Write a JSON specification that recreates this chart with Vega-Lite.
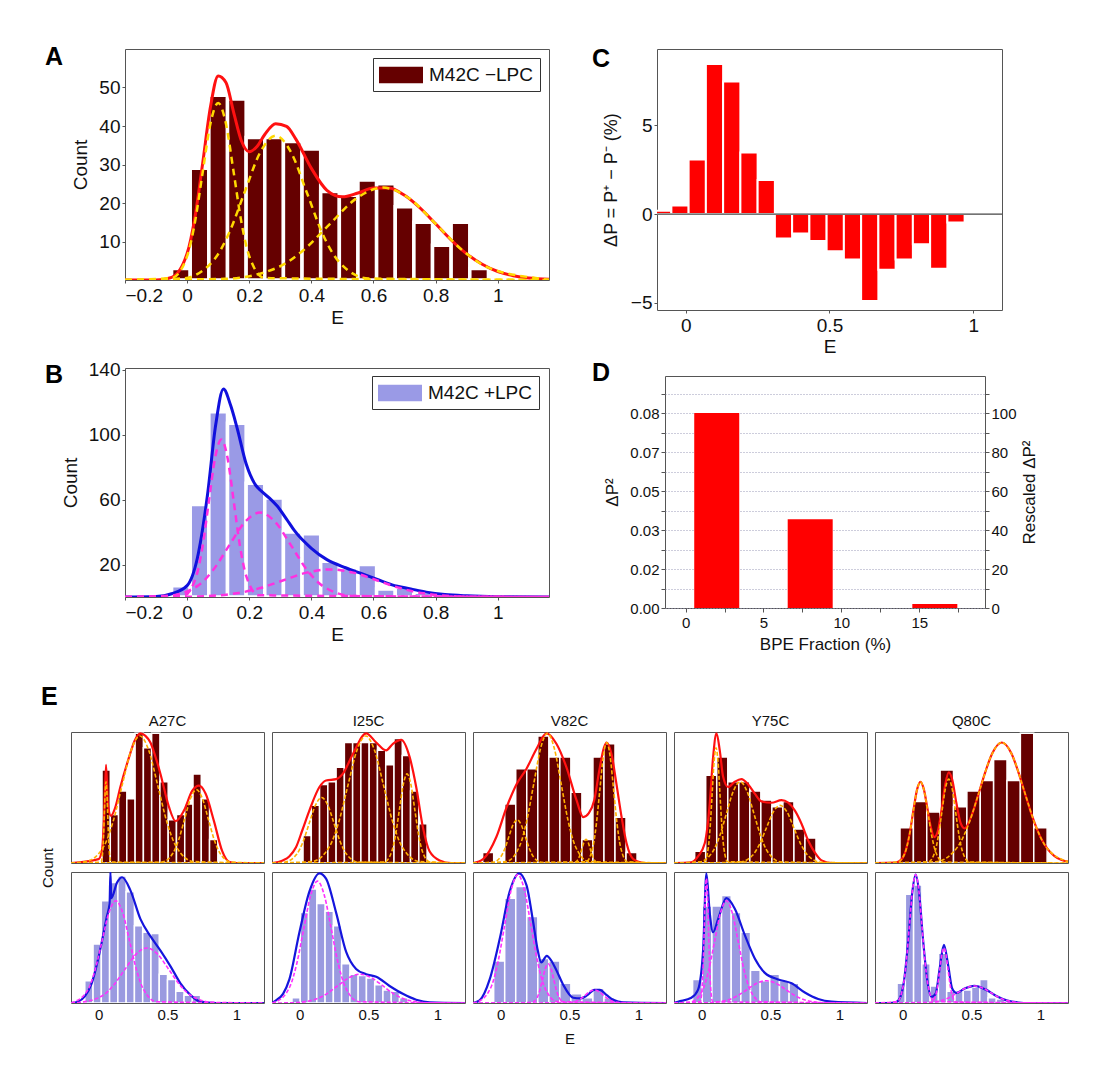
{
"$schema":"https://vega.github.io/schema/vega-lite/v6.json",
"background":"white",
"padding":{"left":40,"top":44,"right":5,"bottom":5},
"config":{"font":"Liberation Sans","view":{"stroke":"#555","strokeWidth":1},
"axis":{"domain":false,"tickColor":"#555","labelColor":"#111","titleColor":"#111","titleFontWeight":"normal","labelFont":"Liberation Sans","titleFont":"Liberation Sans","grid":false},
"header":{"labelFont":"Liberation Sans","titleFont":"Liberation Sans","labelColor":"#111","titleColor":"#111"},
"legend":{"labelFont":"Liberation Sans"},"title":{"font":"Liberation Sans","color":"#000"}},
"datasets":{
"Abar":[{"lo":-0.05,"hi":0.01,"v":3},{"lo":0.01,"hi":0.07,"v":29},{"lo":0.07,"hi":0.13,"v":48},{"lo":0.13,"hi":0.19,"v":47},{"lo":0.19,"hi":0.25,"v":37},{"lo":0.25,"hi":0.31,"v":37},{"lo":0.31,"hi":0.37,"v":36},{"lo":0.37,"hi":0.43,"v":34},{"lo":0.43,"hi":0.49,"v":23},{"lo":0.49,"hi":0.55,"v":22},{"lo":0.55,"hi":0.61,"v":26},{"lo":0.61,"hi":0.67,"v":25},{"lo":0.67,"hi":0.73,"v":19},{"lo":0.73,"hi":0.79,"v":15},{"lo":0.79,"hi":0.85,"v":9},{"lo":0.85,"hi":0.91,"v":15},{"lo":0.91,"hi":0.97,"v":3}],
"Aline":[
{"c":"t","x":-0.2,"y":0},{"c":"t","x":-0.1,"y":0},{"c":"t","x":-0.05,"y":0.7},{"c":"t","x":0,"y":6.9},{"c":"t","x":0.025,"y":16.2},{"c":"t","x":0.05,"y":30.3},{"c":"t","x":0.075,"y":44.9},{"c":"t","x":0.1,"y":53},{"c":"t","x":0.125,"y":51.3},{"c":"t","x":0.15,"y":43.5},{"c":"t","x":0.175,"y":36.1},{"c":"t","x":0.2,"y":33.3},{"c":"t","x":0.225,"y":34.7},{"c":"t","x":0.25,"y":37.8},{"c":"t","x":0.285,"y":40.6},{"c":"t","x":0.32,"y":39.9},{"c":"t","x":0.35,"y":36.6},{"c":"t","x":0.4,"y":29},{"c":"t","x":0.45,"y":23.3},{"c":"t","x":0.5,"y":21.6},{"c":"t","x":0.55,"y":22.6},{"c":"t","x":0.6,"y":23.9},{"c":"t","x":0.65,"y":23.9},{"c":"t","x":0.7,"y":22},{"c":"t","x":0.75,"y":18.7},{"c":"t","x":0.8,"y":14.6},{"c":"t","x":0.85,"y":10.4},{"c":"t","x":0.9,"y":6.8},{"c":"t","x":0.95,"y":4.1},{"c":"t","x":1,"y":2.2},{"c":"t","x":1.05,"y":1.1},{"c":"t","x":1.1,"y":0.5},{"c":"t","x":1.165,"y":0.2},
{"c":"1","x":-0.2,"y":0},{"c":"1","x":-0.05,"y":0.5},{"c":"1","x":0,"y":6.2},{"c":"1","x":0.025,"y":14.9},{"c":"1","x":0.05,"y":27.9},{"c":"1","x":0.075,"y":40.6},{"c":"1","x":0.1,"y":46},{"c":"1","x":0.125,"y":40.6},{"c":"1","x":0.15,"y":27.9},{"c":"1","x":0.175,"y":14.9},{"c":"1","x":0.2,"y":6.2},{"c":"1","x":0.25,"y":0.5},{"c":"1","x":1.165,"y":0},
{"c":"2","x":-0.2,"y":0},{"c":"2","x":-0.015,"y":0.4},{"c":"2","x":0.085,"y":5.1},{"c":"2","x":0.135,"y":12.2},{"c":"2","x":0.185,"y":22.8},{"c":"2","x":0.235,"y":33.1},{"c":"2","x":0.285,"y":37.5},{"c":"2","x":0.335,"y":33.1},{"c":"2","x":0.385,"y":22.8},{"c":"2","x":0.435,"y":12.2},{"c":"2","x":0.485,"y":5.1},{"c":"2","x":0.585,"y":0.4},{"c":"2","x":1.165,"y":0},
{"c":"3","x":-0.2,"y":0},{"c":"3","x":0.12,"y":0.3},{"c":"3","x":0.29,"y":3.2},{"c":"3","x":0.375,"y":7.8},{"c":"3","x":0.46,"y":14.6},{"c":"3","x":0.545,"y":21.2},{"c":"3","x":0.63,"y":24},{"c":"3","x":0.715,"y":21.2},{"c":"3","x":0.8,"y":14.6},{"c":"3","x":0.885,"y":7.8},{"c":"3","x":0.97,"y":3.2},{"c":"3","x":1.14,"y":0.3},{"c":"3","x":1.165,"y":0}],
"Bbar":[{"lo":-0.05,"hi":0.01,"v":7},{"lo":0.01,"hi":0.07,"v":57},{"lo":0.07,"hi":0.13,"v":114},{"lo":0.13,"hi":0.19,"v":107},{"lo":0.19,"hi":0.25,"v":70},{"lo":0.25,"hi":0.31,"v":61},{"lo":0.31,"hi":0.37,"v":40},{"lo":0.37,"hi":0.43,"v":39},{"lo":0.43,"hi":0.49,"v":22},{"lo":0.49,"hi":0.55,"v":18},{"lo":0.55,"hi":0.61,"v":20},{"lo":0.61,"hi":0.67,"v":5},{"lo":0.67,"hi":0.73,"v":6},{"lo":0.73,"hi":0.79,"v":3},{"lo":0.79,"hi":0.85,"v":1}],
"Bline":[
{"c":"t","x":-0.2,"y":0},{"c":"t","x":-0.1,"y":0.3},{"c":"t","x":-0.05,"y":2},{"c":"t","x":0,"y":7},{"c":"t","x":0.033,"y":24},{"c":"t","x":0.065,"y":62},{"c":"t","x":0.092,"y":106},{"c":"t","x":0.117,"y":128},{"c":"t","x":0.14,"y":118},{"c":"t","x":0.161,"y":104},{"c":"t","x":0.19,"y":82},{"c":"t","x":0.22,"y":69},{"c":"t","x":0.24,"y":65},{"c":"t","x":0.27,"y":60},{"c":"t","x":0.29,"y":56},{"c":"t","x":0.32,"y":48},{"c":"t","x":0.345,"y":41},{"c":"t","x":0.4,"y":30},{"c":"t","x":0.45,"y":23},{"c":"t","x":0.51,"y":18},{"c":"t","x":0.56,"y":14.5},{"c":"t","x":0.61,"y":11},{"c":"t","x":0.66,"y":7.5},{"c":"t","x":0.72,"y":5},{"c":"t","x":0.77,"y":3},{"c":"t","x":0.83,"y":1.5},{"c":"t","x":0.9,"y":0.7},{"c":"t","x":1,"y":0.2},{"c":"t","x":1.165,"y":0},
{"c":"1","x":-0.2,"y":0},{"c":"1","x":-0.01,"y":1.1},{"c":"1","x":0.03,"y":13.1},{"c":"1","x":0.05,"y":31.5},{"c":"1","x":0.07,"y":58.9},{"c":"1","x":0.09,"y":85.7},{"c":"1","x":0.11,"y":97},{"c":"1","x":0.13,"y":85.7},{"c":"1","x":0.15,"y":58.9},{"c":"1","x":0.17,"y":31.5},{"c":"1","x":0.19,"y":13.1},{"c":"1","x":0.23,"y":1.1},{"c":"1","x":1.165,"y":0},
{"c":"2","x":-0.2,"y":0},{"c":"2","x":-0.065,"y":0.6},{"c":"2","x":0.035,"y":7},{"c":"2","x":0.085,"y":16.9},{"c":"2","x":0.135,"y":31.6},{"c":"2","x":0.185,"y":45.9},{"c":"2","x":0.235,"y":52},{"c":"2","x":0.285,"y":45.9},{"c":"2","x":0.335,"y":31.6},{"c":"2","x":0.385,"y":16.9},{"c":"2","x":0.435,"y":7},{"c":"2","x":0.535,"y":0.6},{"c":"2","x":1.165,"y":0},
{"c":"3","x":-0.2,"y":0},{"c":"3","x":0.01,"y":0.2},{"c":"3","x":0.16,"y":2.3},{"c":"3","x":0.235,"y":5.5},{"c":"3","x":0.31,"y":10.3},{"c":"3","x":0.385,"y":15},{"c":"3","x":0.46,"y":17},{"c":"3","x":0.535,"y":15},{"c":"3","x":0.61,"y":10.3},{"c":"3","x":0.685,"y":5.5},{"c":"3","x":0.76,"y":2.3},{"c":"3","x":0.91,"y":0.2},{"c":"3","x":1.165,"y":0}],
"Cbar":[{"lo":-0.11,"hi":-0.05,"v":0.19},{"lo":-0.05,"hi":0.01,"v":0.49},{"lo":0.01,"hi":0.07,"v":3.08},{"lo":0.07,"hi":0.13,"v":8.45},{"lo":0.13,"hi":0.19,"v":7.47},{"lo":0.19,"hi":0.25,"v":3.47},{"lo":0.25,"hi":0.31,"v":1.92},{"lo":0.31,"hi":0.37,"v":-1.38},{"lo":0.37,"hi":0.43,"v":-1.09},{"lo":0.43,"hi":0.49,"v":-1.51},{"lo":0.49,"hi":0.55,"v":-2.09},{"lo":0.55,"hi":0.61,"v":-2.55},{"lo":0.61,"hi":0.67,"v":-4.89},{"lo":0.67,"hi":0.73,"v":-3.13},{"lo":0.73,"hi":0.79,"v":-2.55},{"lo":0.79,"hi":0.85,"v":-1.7},{"lo":0.85,"hi":0.91,"v":-3.08},{"lo":0.91,"hi":0.97,"v":-0.47}],
"Dbar":[{"f":2,"v":100},{"f":8,"v":45.5},{"f":16,"v":2}],
"E":[
{"k":"b","m":"A27C","r":"-","lo":0.025,"hi":0.085,"v":71},{"k":"b","m":"A27C","r":"-","lo":0.085,"hi":0.145,"v":37},{"k":"b","m":"A27C","r":"-","lo":0.145,"hi":0.205,"v":55},{"k":"b","m":"A27C","r":"-","lo":0.205,"hi":0.265,"v":49},{"k":"b","m":"A27C","r":"-","lo":0.265,"hi":0.325,"v":99},{"k":"b","m":"A27C","r":"-","lo":0.325,"hi":0.385,"v":88},{"k":"b","m":"A27C","r":"-","lo":0.385,"hi":0.445,"v":99},{"k":"b","m":"A27C","r":"-","lo":0.445,"hi":0.505,"v":62},{"k":"b","m":"A27C","r":"-","lo":0.505,"hi":0.565,"v":33},{"k":"b","m":"A27C","r":"-","lo":0.565,"hi":0.625,"v":37},{"k":"b","m":"A27C","r":"-","lo":0.625,"hi":0.685,"v":45},{"k":"b","m":"A27C","r":"-","lo":0.685,"hi":0.745,"v":68},{"k":"b","m":"A27C","r":"-","lo":0.745,"hi":0.805,"v":49},{"k":"b","m":"A27C","r":"-","lo":0.805,"hi":0.865,"v":18},
{"k":"t","m":"A27C","r":"-","x":-0.2,"y":0},{"k":"t","m":"A27C","r":"-","x":0,"y":3},{"k":"t","m":"A27C","r":"-","x":0.025,"y":10},{"k":"t","m":"A27C","r":"-","x":0.04,"y":35},{"k":"t","m":"A27C","r":"-","x":0.054,"y":75},{"k":"t","m":"A27C","r":"-","x":0.068,"y":45},{"k":"t","m":"A27C","r":"-","x":0.09,"y":36},{"k":"t","m":"A27C","r":"-","x":0.12,"y":42},{"k":"t","m":"A27C","r":"-","x":0.158,"y":58},{"k":"t","m":"A27C","r":"-","x":0.219,"y":80},{"k":"t","m":"A27C","r":"-","x":0.26,"y":93},{"k":"t","m":"A27C","r":"-","x":0.304,"y":99},{"k":"t","m":"A27C","r":"-","x":0.34,"y":97},{"k":"t","m":"A27C","r":"-","x":0.376,"y":92},{"k":"t","m":"A27C","r":"-","x":0.41,"y":82},{"k":"t","m":"A27C","r":"-","x":0.449,"y":68},{"k":"t","m":"A27C","r":"-","x":0.51,"y":43},{"k":"t","m":"A27C","r":"-","x":0.558,"y":32},{"k":"t","m":"A27C","r":"-","x":0.619,"y":40},{"k":"t","m":"A27C","r":"-","x":0.679,"y":55},{"k":"t","m":"A27C","r":"-","x":0.728,"y":59},{"k":"t","m":"A27C","r":"-","x":0.776,"y":53},{"k":"t","m":"A27C","r":"-","x":0.837,"y":32},{"k":"t","m":"A27C","r":"-","x":0.897,"y":9},{"k":"t","m":"A27C","r":"-","x":0.946,"y":1},{"k":"t","m":"A27C","r":"-","x":1,"y":0},{"k":"t","m":"A27C","r":"-","x":1.2,"y":0},
{"k":"c","m":"A27C","r":"-","c":1,"x":-0.2,"y":0},{"k":"c","m":"A27C","r":"-","c":1,"x":0.018,"y":0.7},{"k":"c","m":"A27C","r":"-","c":1,"x":0.03,"y":8.4},{"k":"c","m":"A27C","r":"-","c":1,"x":0.036,"y":20.2},{"k":"c","m":"A27C","r":"-","c":1,"x":0.042,"y":37.6},{"k":"c","m":"A27C","r":"-","c":1,"x":0.048,"y":54.7},{"k":"c","m":"A27C","r":"-","c":1,"x":0.054,"y":62},{"k":"c","m":"A27C","r":"-","c":1,"x":0.06,"y":54.7},{"k":"c","m":"A27C","r":"-","c":1,"x":0.066,"y":37.6},{"k":"c","m":"A27C","r":"-","c":1,"x":0.072,"y":20.2},{"k":"c","m":"A27C","r":"-","c":1,"x":0.078,"y":8.4},{"k":"c","m":"A27C","r":"-","c":1,"x":0.09,"y":0.7},{"k":"c","m":"A27C","r":"-","c":1,"x":1.2,"y":0},
{"k":"c","m":"A27C","r":"-","c":2,"x":-0.2,"y":0},{"k":"c","m":"A27C","r":"-","c":2,"x":-0.09,"y":1.1},{"k":"c","m":"A27C","r":"-","c":2,"x":0.04,"y":13.1},{"k":"c","m":"A27C","r":"-","c":2,"x":0.105,"y":31.5},{"k":"c","m":"A27C","r":"-","c":2,"x":0.17,"y":58.9},{"k":"c","m":"A27C","r":"-","c":2,"x":0.235,"y":85.7},{"k":"c","m":"A27C","r":"-","c":2,"x":0.3,"y":97},{"k":"c","m":"A27C","r":"-","c":2,"x":0.365,"y":85.7},{"k":"c","m":"A27C","r":"-","c":2,"x":0.43,"y":58.9},{"k":"c","m":"A27C","r":"-","c":2,"x":0.495,"y":31.5},{"k":"c","m":"A27C","r":"-","c":2,"x":0.56,"y":13.1},{"k":"c","m":"A27C","r":"-","c":2,"x":0.69,"y":1.1},{"k":"c","m":"A27C","r":"-","c":2,"x":1.2,"y":0},
{"k":"c","m":"A27C","r":"-","c":3,"x":-0.2,"y":0},{"k":"c","m":"A27C","r":"-","c":3,"x":0.455,"y":0.6},{"k":"c","m":"A27C","r":"-","c":3,"x":0.54,"y":7.6},{"k":"c","m":"A27C","r":"-","c":3,"x":0.5825,"y":18.2},{"k":"c","m":"A27C","r":"-","c":3,"x":0.625,"y":34},{"k":"c","m":"A27C","r":"-","c":3,"x":0.6675,"y":49.4},{"k":"c","m":"A27C","r":"-","c":3,"x":0.71,"y":56},{"k":"c","m":"A27C","r":"-","c":3,"x":0.7525,"y":49.4},{"k":"c","m":"A27C","r":"-","c":3,"x":0.795,"y":34},{"k":"c","m":"A27C","r":"-","c":3,"x":0.8375,"y":18.2},{"k":"c","m":"A27C","r":"-","c":3,"x":0.88,"y":7.6},{"k":"c","m":"A27C","r":"-","c":3,"x":0.965,"y":0.6},{"k":"c","m":"A27C","r":"-","c":3,"x":1.2,"y":0},
{"k":"b","m":"A27C","r":"+","lo":-0.1,"hi":-0.04,"v":17},{"k":"b","m":"A27C","r":"+","lo":-0.04,"hi":0.02,"v":45},{"k":"b","m":"A27C","r":"+","lo":0.02,"hi":0.08,"v":78},{"k":"b","m":"A27C","r":"+","lo":0.08,"hi":0.14,"v":92},{"k":"b","m":"A27C","r":"+","lo":0.14,"hi":0.2,"v":97},{"k":"b","m":"A27C","r":"+","lo":0.2,"hi":0.26,"v":85},{"k":"b","m":"A27C","r":"+","lo":0.26,"hi":0.32,"v":59},{"k":"b","m":"A27C","r":"+","lo":0.32,"hi":0.38,"v":54},{"k":"b","m":"A27C","r":"+","lo":0.38,"hi":0.44,"v":53},{"k":"b","m":"A27C","r":"+","lo":0.44,"hi":0.5,"v":22},{"k":"b","m":"A27C","r":"+","lo":0.5,"hi":0.56,"v":18},{"k":"b","m":"A27C","r":"+","lo":0.56,"hi":0.62,"v":9},{"k":"b","m":"A27C","r":"+","lo":0.62,"hi":0.68,"v":6},{"k":"b","m":"A27C","r":"+","lo":0.68,"hi":0.74,"v":6},
{"k":"t","m":"A27C","r":"+","x":-0.2,"y":0},{"k":"t","m":"A27C","r":"+","x":-0.15,"y":1},{"k":"t","m":"A27C","r":"+","x":-0.1,"y":5},{"k":"t","m":"A27C","r":"+","x":-0.05,"y":15},{"k":"t","m":"A27C","r":"+","x":0,"y":35},{"k":"t","m":"A27C","r":"+","x":0.06,"y":66},{"k":"t","m":"A27C","r":"+","x":0.08,"y":76},{"k":"t","m":"A27C","r":"+","x":0.086,"y":100},{"k":"t","m":"A27C","r":"+","x":0.092,"y":80},{"k":"t","m":"A27C","r":"+","x":0.134,"y":92},{"k":"t","m":"A27C","r":"+","x":0.171,"y":96},{"k":"t","m":"A27C","r":"+","x":0.231,"y":86},{"k":"t","m":"A27C","r":"+","x":0.304,"y":64},{"k":"t","m":"A27C","r":"+","x":0.376,"y":51},{"k":"t","m":"A27C","r":"+","x":0.449,"y":40},{"k":"t","m":"A27C","r":"+","x":0.522,"y":28},{"k":"t","m":"A27C","r":"+","x":0.594,"y":15},{"k":"t","m":"A27C","r":"+","x":0.667,"y":6},{"k":"t","m":"A27C","r":"+","x":0.74,"y":1},{"k":"t","m":"A27C","r":"+","x":0.85,"y":0},{"k":"t","m":"A27C","r":"+","x":1.2,"y":0},
{"k":"c","m":"A27C","r":"+","c":1,"x":-0.2,"y":0},{"k":"c","m":"A27C","r":"+","c":1,"x":-0.175,"y":0.9},{"k":"c","m":"A27C","r":"+","c":1,"x":-0.075,"y":10.5},{"k":"c","m":"A27C","r":"+","c":1,"x":-0.025,"y":25.3},{"k":"c","m":"A27C","r":"+","c":1,"x":0.025,"y":47.3},{"k":"c","m":"A27C","r":"+","c":1,"x":0.075,"y":68.9},{"k":"c","m":"A27C","r":"+","c":1,"x":0.125,"y":78},{"k":"c","m":"A27C","r":"+","c":1,"x":0.175,"y":68.9},{"k":"c","m":"A27C","r":"+","c":1,"x":0.225,"y":47.3},{"k":"c","m":"A27C","r":"+","c":1,"x":0.275,"y":25.3},{"k":"c","m":"A27C","r":"+","c":1,"x":0.325,"y":10.5},{"k":"c","m":"A27C","r":"+","c":1,"x":0.425,"y":0.9},{"k":"c","m":"A27C","r":"+","c":1,"x":1.2,"y":0},
{"k":"c","m":"A27C","r":"+","c":2,"x":-0.2,"y":0},{"k":"c","m":"A27C","r":"+","c":2,"x":-0.13,"y":0.5},{"k":"c","m":"A27C","r":"+","c":2,"x":0.03,"y":5.7},{"k":"c","m":"A27C","r":"+","c":2,"x":0.11,"y":13.7},{"k":"c","m":"A27C","r":"+","c":2,"x":0.19,"y":25.5},{"k":"c","m":"A27C","r":"+","c":2,"x":0.27,"y":37.1},{"k":"c","m":"A27C","r":"+","c":2,"x":0.35,"y":42},{"k":"c","m":"A27C","r":"+","c":2,"x":0.43,"y":37.1},{"k":"c","m":"A27C","r":"+","c":2,"x":0.51,"y":25.5},{"k":"c","m":"A27C","r":"+","c":2,"x":0.59,"y":13.7},{"k":"c","m":"A27C","r":"+","c":2,"x":0.67,"y":5.7},{"k":"c","m":"A27C","r":"+","c":2,"x":0.83,"y":0.5},{"k":"c","m":"A27C","r":"+","c":2,"x":1.2,"y":0},
{"k":"b","m":"I25C","r":"-","lo":0.025,"hi":0.085,"v":21},{"k":"b","m":"I25C","r":"-","lo":0.085,"hi":0.145,"v":44},{"k":"b","m":"I25C","r":"-","lo":0.145,"hi":0.205,"v":60},{"k":"b","m":"I25C","r":"-","lo":0.205,"hi":0.265,"v":62},{"k":"b","m":"I25C","r":"-","lo":0.265,"hi":0.325,"v":73},{"k":"b","m":"I25C","r":"-","lo":0.325,"hi":0.385,"v":92},{"k":"b","m":"I25C","r":"-","lo":0.385,"hi":0.445,"v":92},{"k":"b","m":"I25C","r":"-","lo":0.445,"hi":0.505,"v":92},{"k":"b","m":"I25C","r":"-","lo":0.505,"hi":0.565,"v":92},{"k":"b","m":"I25C","r":"-","lo":0.565,"hi":0.625,"v":86},{"k":"b","m":"I25C","r":"-","lo":0.625,"hi":0.685,"v":75},{"k":"b","m":"I25C","r":"-","lo":0.685,"hi":0.745,"v":95},{"k":"b","m":"I25C","r":"-","lo":0.745,"hi":0.805,"v":82},{"k":"b","m":"I25C","r":"-","lo":0.805,"hi":0.865,"v":55},{"k":"b","m":"I25C","r":"-","lo":0.865,"hi":0.925,"v":30},
{"k":"t","m":"I25C","r":"-","x":-0.2,"y":0},{"k":"t","m":"I25C","r":"-","x":-0.122,"y":2},{"k":"t","m":"I25C","r":"-","x":-0.075,"y":5},{"k":"t","m":"I25C","r":"-","x":-0.026,"y":12},{"k":"t","m":"I25C","r":"-","x":0.02,"y":25},{"k":"t","m":"I25C","r":"-","x":0.071,"y":40},{"k":"t","m":"I25C","r":"-","x":0.144,"y":58},{"k":"t","m":"I25C","r":"-","x":0.192,"y":63},{"k":"t","m":"I25C","r":"-","x":0.265,"y":64},{"k":"t","m":"I25C","r":"-","x":0.313,"y":68},{"k":"t","m":"I25C","r":"-","x":0.386,"y":83},{"k":"t","m":"I25C","r":"-","x":0.483,"y":99},{"k":"t","m":"I25C","r":"-","x":0.556,"y":92},{"k":"t","m":"I25C","r":"-","x":0.628,"y":86},{"k":"t","m":"I25C","r":"-","x":0.677,"y":91},{"k":"t","m":"I25C","r":"-","x":0.737,"y":94},{"k":"t","m":"I25C","r":"-","x":0.798,"y":81},{"k":"t","m":"I25C","r":"-","x":0.846,"y":58},{"k":"t","m":"I25C","r":"-","x":0.895,"y":27},{"k":"t","m":"I25C","r":"-","x":0.943,"y":9},{"k":"t","m":"I25C","r":"-","x":1.016,"y":2},{"k":"t","m":"I25C","r":"-","x":1.1,"y":0},{"k":"t","m":"I25C","r":"-","x":1.2,"y":0},
{"k":"c","m":"I25C","r":"-","c":1,"x":-0.2,"y":0},{"k":"c","m":"I25C","r":"-","c":1,"x":-0.11,"y":0.6},{"k":"c","m":"I25C","r":"-","c":1,"x":-0.02,"y":6.8},{"k":"c","m":"I25C","r":"-","c":1,"x":0.025,"y":16.2},{"k":"c","m":"I25C","r":"-","c":1,"x":0.07,"y":30.3},{"k":"c","m":"I25C","r":"-","c":1,"x":0.115,"y":44.1},{"k":"c","m":"I25C","r":"-","c":1,"x":0.16,"y":50},{"k":"c","m":"I25C","r":"-","c":1,"x":0.205,"y":44.1},{"k":"c","m":"I25C","r":"-","c":1,"x":0.25,"y":30.3},{"k":"c","m":"I25C","r":"-","c":1,"x":0.295,"y":16.2},{"k":"c","m":"I25C","r":"-","c":1,"x":0.34,"y":6.8},{"k":"c","m":"I25C","r":"-","c":1,"x":0.43,"y":0.6},{"k":"c","m":"I25C","r":"-","c":1,"x":1.2,"y":0},
{"k":"c","m":"I25C","r":"-","c":2,"x":-0.2,"y":0},{"k":"c","m":"I25C","r":"-","c":2,"x":0.09,"y":1.1},{"k":"c","m":"I25C","r":"-","c":2,"x":0.22,"y":13.1},{"k":"c","m":"I25C","r":"-","c":2,"x":0.285,"y":31.5},{"k":"c","m":"I25C","r":"-","c":2,"x":0.35,"y":58.9},{"k":"c","m":"I25C","r":"-","c":2,"x":0.415,"y":85.7},{"k":"c","m":"I25C","r":"-","c":2,"x":0.48,"y":97},{"k":"c","m":"I25C","r":"-","c":2,"x":0.545,"y":85.7},{"k":"c","m":"I25C","r":"-","c":2,"x":0.61,"y":58.9},{"k":"c","m":"I25C","r":"-","c":2,"x":0.675,"y":31.5},{"k":"c","m":"I25C","r":"-","c":2,"x":0.74,"y":13.1},{"k":"c","m":"I25C","r":"-","c":2,"x":0.87,"y":1.1},{"k":"c","m":"I25C","r":"-","c":2,"x":1.2,"y":0},
{"k":"c","m":"I25C","r":"-","c":3,"x":-0.2,"y":0},{"k":"c","m":"I25C","r":"-","c":3,"x":0.615,"y":0.7},{"k":"c","m":"I25C","r":"-","c":3,"x":0.67,"y":9.2},{"k":"c","m":"I25C","r":"-","c":3,"x":0.6975,"y":22.1},{"k":"c","m":"I25C","r":"-","c":3,"x":0.725,"y":41.3},{"k":"c","m":"I25C","r":"-","c":3,"x":0.7525,"y":60},{"k":"c","m":"I25C","r":"-","c":3,"x":0.78,"y":68},{"k":"c","m":"I25C","r":"-","c":3,"x":0.8075,"y":60},{"k":"c","m":"I25C","r":"-","c":3,"x":0.835,"y":41.3},{"k":"c","m":"I25C","r":"-","c":3,"x":0.8625,"y":22.1},{"k":"c","m":"I25C","r":"-","c":3,"x":0.89,"y":9.2},{"k":"c","m":"I25C","r":"-","c":3,"x":0.945,"y":0.7},{"k":"c","m":"I25C","r":"-","c":3,"x":1.2,"y":0},
{"k":"b","m":"I25C","r":"+","lo":-0.055,"hi":0.005,"v":4},{"k":"b","m":"I25C","r":"+","lo":0.005,"hi":0.065,"v":69},{"k":"b","m":"I25C","r":"+","lo":0.065,"hi":0.125,"v":87},{"k":"b","m":"I25C","r":"+","lo":0.125,"hi":0.185,"v":76},{"k":"b","m":"I25C","r":"+","lo":0.185,"hi":0.245,"v":70},{"k":"b","m":"I25C","r":"+","lo":0.245,"hi":0.305,"v":59},{"k":"b","m":"I25C","r":"+","lo":0.305,"hi":0.365,"v":30},{"k":"b","m":"I25C","r":"+","lo":0.365,"hi":0.425,"v":22},{"k":"b","m":"I25C","r":"+","lo":0.425,"hi":0.485,"v":21},{"k":"b","m":"I25C","r":"+","lo":0.485,"hi":0.545,"v":19},{"k":"b","m":"I25C","r":"+","lo":0.545,"hi":0.605,"v":14},{"k":"b","m":"I25C","r":"+","lo":0.605,"hi":0.665,"v":10},{"k":"b","m":"I25C","r":"+","lo":0.665,"hi":0.725,"v":9},{"k":"b","m":"I25C","r":"+","lo":0.725,"hi":0.785,"v":4},
{"k":"t","m":"I25C","r":"+","x":-0.2,"y":0},{"k":"t","m":"I25C","r":"+","x":-0.171,"y":2},{"k":"t","m":"I25C","r":"+","x":-0.12,"y":7},{"k":"t","m":"I25C","r":"+","x":-0.074,"y":18},{"k":"t","m":"I25C","r":"+","x":-0.001,"y":54},{"k":"t","m":"I25C","r":"+","x":0.071,"y":85},{"k":"t","m":"I25C","r":"+","x":0.144,"y":99},{"k":"t","m":"I25C","r":"+","x":0.192,"y":95},{"k":"t","m":"I25C","r":"+","x":0.265,"y":69},{"k":"t","m":"I25C","r":"+","x":0.338,"y":39},{"k":"t","m":"I25C","r":"+","x":0.41,"y":26},{"k":"t","m":"I25C","r":"+","x":0.483,"y":22},{"k":"t","m":"I25C","r":"+","x":0.556,"y":20},{"k":"t","m":"I25C","r":"+","x":0.653,"y":13},{"k":"t","m":"I25C","r":"+","x":0.749,"y":7},{"k":"t","m":"I25C","r":"+","x":0.846,"y":2.5},{"k":"t","m":"I25C","r":"+","x":0.943,"y":0.5},{"k":"t","m":"I25C","r":"+","x":1.2,"y":0},
{"k":"c","m":"I25C","r":"+","c":1,"x":-0.2,"y":0},{"k":"c","m":"I25C","r":"+","c":1,"x":-0.17,"y":1},{"k":"c","m":"I25C","r":"+","c":1,"x":-0.07,"y":12.6},{"k":"c","m":"I25C","r":"+","c":1,"x":-0.02,"y":30.2},{"k":"c","m":"I25C","r":"+","c":1,"x":0.03,"y":56.4},{"k":"c","m":"I25C","r":"+","c":1,"x":0.08,"y":82.1},{"k":"c","m":"I25C","r":"+","c":1,"x":0.13,"y":93},{"k":"c","m":"I25C","r":"+","c":1,"x":0.18,"y":82.1},{"k":"c","m":"I25C","r":"+","c":1,"x":0.23,"y":56.4},{"k":"c","m":"I25C","r":"+","c":1,"x":0.28,"y":30.2},{"k":"c","m":"I25C","r":"+","c":1,"x":0.33,"y":12.6},{"k":"c","m":"I25C","r":"+","c":1,"x":0.43,"y":1},{"k":"c","m":"I25C","r":"+","c":1,"x":1.2,"y":0},
{"k":"c","m":"I25C","r":"+","c":2,"x":-0.2,"y":0},{"k":"c","m":"I25C","r":"+","c":2,"x":-0.04,"y":0.2},{"k":"c","m":"I25C","r":"+","c":2,"x":0.12,"y":3},{"k":"c","m":"I25C","r":"+","c":2,"x":0.2,"y":7.2},{"k":"c","m":"I25C","r":"+","c":2,"x":0.28,"y":13.4},{"k":"c","m":"I25C","r":"+","c":2,"x":0.36,"y":19.4},{"k":"c","m":"I25C","r":"+","c":2,"x":0.44,"y":22},{"k":"c","m":"I25C","r":"+","c":2,"x":0.52,"y":19.4},{"k":"c","m":"I25C","r":"+","c":2,"x":0.6,"y":13.4},{"k":"c","m":"I25C","r":"+","c":2,"x":0.68,"y":7.2},{"k":"c","m":"I25C","r":"+","c":2,"x":0.76,"y":3},{"k":"c","m":"I25C","r":"+","c":2,"x":0.92,"y":0.2},{"k":"c","m":"I25C","r":"+","c":2,"x":1.2,"y":0},
{"k":"b","m":"V82C","r":"-","lo":-0.13,"hi":-0.05,"v":8},{"k":"b","m":"V82C","r":"-","lo":0.03,"hi":0.11,"v":45},{"k":"b","m":"V82C","r":"-","lo":0.11,"hi":0.19,"v":72},{"k":"b","m":"V82C","r":"-","lo":0.19,"hi":0.27,"v":72},{"k":"b","m":"V82C","r":"-","lo":0.27,"hi":0.35,"v":97},{"k":"b","m":"V82C","r":"-","lo":0.35,"hi":0.43,"v":81},{"k":"b","m":"V82C","r":"-","lo":0.43,"hi":0.51,"v":81},{"k":"b","m":"V82C","r":"-","lo":0.51,"hi":0.59,"v":54},{"k":"b","m":"V82C","r":"-","lo":0.59,"hi":0.67,"v":18},{"k":"b","m":"V82C","r":"-","lo":0.67,"hi":0.75,"v":81},{"k":"b","m":"V82C","r":"-","lo":0.75,"hi":0.83,"v":91},{"k":"b","m":"V82C","r":"-","lo":0.83,"hi":0.91,"v":35},{"k":"b","m":"V82C","r":"-","lo":0.91,"hi":0.99,"v":8},
{"k":"t","m":"V82C","r":"-","x":-0.2,"y":0},{"k":"t","m":"V82C","r":"-","x":-0.127,"y":3},{"k":"t","m":"V82C","r":"-","x":-0.03,"y":20},{"k":"t","m":"V82C","r":"-","x":0.042,"y":42},{"k":"t","m":"V82C","r":"-","x":0.115,"y":60},{"k":"t","m":"V82C","r":"-","x":0.188,"y":72},{"k":"t","m":"V82C","r":"-","x":0.26,"y":87},{"k":"t","m":"V82C","r":"-","x":0.333,"y":99},{"k":"t","m":"V82C","r":"-","x":0.405,"y":91},{"k":"t","m":"V82C","r":"-","x":0.478,"y":73},{"k":"t","m":"V82C","r":"-","x":0.551,"y":48},{"k":"t","m":"V82C","r":"-","x":0.6,"y":35},{"k":"t","m":"V82C","r":"-","x":0.64,"y":38},{"k":"t","m":"V82C","r":"-","x":0.68,"y":48},{"k":"t","m":"V82C","r":"-","x":0.715,"y":70},{"k":"t","m":"V82C","r":"-","x":0.75,"y":88},{"k":"t","m":"V82C","r":"-","x":0.769,"y":92},{"k":"t","m":"V82C","r":"-","x":0.805,"y":83},{"k":"t","m":"V82C","r":"-","x":0.841,"y":60},{"k":"t","m":"V82C","r":"-","x":0.878,"y":35},{"k":"t","m":"V82C","r":"-","x":0.914,"y":15},{"k":"t","m":"V82C","r":"-","x":0.963,"y":3},{"k":"t","m":"V82C","r":"-","x":1.05,"y":0},{"k":"t","m":"V82C","r":"-","x":1.2,"y":0},
{"k":"c","m":"V82C","r":"-","c":1,"x":-0.2,"y":0},{"k":"c","m":"V82C","r":"-","c":1,"x":-0.06,"y":0.4},{"k":"c","m":"V82C","r":"-","c":1,"x":0,"y":4.5},{"k":"c","m":"V82C","r":"-","c":1,"x":0.03,"y":10.7},{"k":"c","m":"V82C","r":"-","c":1,"x":0.06,"y":20},{"k":"c","m":"V82C","r":"-","c":1,"x":0.09,"y":29.1},{"k":"c","m":"V82C","r":"-","c":1,"x":0.12,"y":33},{"k":"c","m":"V82C","r":"-","c":1,"x":0.15,"y":29.1},{"k":"c","m":"V82C","r":"-","c":1,"x":0.18,"y":20},{"k":"c","m":"V82C","r":"-","c":1,"x":0.21,"y":10.7},{"k":"c","m":"V82C","r":"-","c":1,"x":0.24,"y":4.5},{"k":"c","m":"V82C","r":"-","c":1,"x":0.3,"y":0.4},{"k":"c","m":"V82C","r":"-","c":1,"x":1.2,"y":0},
{"k":"c","m":"V82C","r":"-","c":2,"x":-0.2,"y":0},{"k":"c","m":"V82C","r":"-","c":2,"x":0.04,"y":1.1},{"k":"c","m":"V82C","r":"-","c":2,"x":0.14,"y":13.4},{"k":"c","m":"V82C","r":"-","c":2,"x":0.19,"y":32.2},{"k":"c","m":"V82C","r":"-","c":2,"x":0.24,"y":60.1},{"k":"c","m":"V82C","r":"-","c":2,"x":0.29,"y":87.4},{"k":"c","m":"V82C","r":"-","c":2,"x":0.34,"y":99},{"k":"c","m":"V82C","r":"-","c":2,"x":0.39,"y":87.4},{"k":"c","m":"V82C","r":"-","c":2,"x":0.44,"y":60.1},{"k":"c","m":"V82C","r":"-","c":2,"x":0.49,"y":32.2},{"k":"c","m":"V82C","r":"-","c":2,"x":0.54,"y":13.4},{"k":"c","m":"V82C","r":"-","c":2,"x":0.64,"y":1.1},{"k":"c","m":"V82C","r":"-","c":2,"x":1.2,"y":0},
{"k":"c","m":"V82C","r":"-","c":3,"x":-0.2,"y":0},{"k":"c","m":"V82C","r":"-","c":3,"x":0.62,"y":1},{"k":"c","m":"V82C","r":"-","c":3,"x":0.67,"y":12.4},{"k":"c","m":"V82C","r":"-","c":3,"x":0.695,"y":29.9},{"k":"c","m":"V82C","r":"-","c":3,"x":0.72,"y":55.8},{"k":"c","m":"V82C","r":"-","c":3,"x":0.745,"y":81.2},{"k":"c","m":"V82C","r":"-","c":3,"x":0.77,"y":92},{"k":"c","m":"V82C","r":"-","c":3,"x":0.795,"y":81.2},{"k":"c","m":"V82C","r":"-","c":3,"x":0.82,"y":55.8},{"k":"c","m":"V82C","r":"-","c":3,"x":0.845,"y":29.9},{"k":"c","m":"V82C","r":"-","c":3,"x":0.87,"y":12.4},{"k":"c","m":"V82C","r":"-","c":3,"x":0.92,"y":1},{"k":"c","m":"V82C","r":"-","c":3,"x":1.2,"y":0},
{"k":"c","m":"V82C","r":"-","c":4,"x":-0.2,"y":0},{"k":"c","m":"V82C","r":"-","c":4,"x":0.53,"y":0.2},{"k":"c","m":"V82C","r":"-","c":4,"x":0.56,"y":2.4},{"k":"c","m":"V82C","r":"-","c":4,"x":0.575,"y":5.9},{"k":"c","m":"V82C","r":"-","c":4,"x":0.59,"y":10.9},{"k":"c","m":"V82C","r":"-","c":4,"x":0.605,"y":15.9},{"k":"c","m":"V82C","r":"-","c":4,"x":0.62,"y":18},{"k":"c","m":"V82C","r":"-","c":4,"x":0.635,"y":15.9},{"k":"c","m":"V82C","r":"-","c":4,"x":0.65,"y":10.9},{"k":"c","m":"V82C","r":"-","c":4,"x":0.665,"y":5.9},{"k":"c","m":"V82C","r":"-","c":4,"x":0.68,"y":2.4},{"k":"c","m":"V82C","r":"-","c":4,"x":0.71,"y":0.2},{"k":"c","m":"V82C","r":"-","c":4,"x":1.2,"y":0},
{"k":"b","m":"V82C","r":"+","lo":-0.05,"hi":0.03,"v":32},{"k":"b","m":"V82C","r":"+","lo":0.03,"hi":0.11,"v":80},{"k":"b","m":"V82C","r":"+","lo":0.11,"hi":0.19,"v":89},{"k":"b","m":"V82C","r":"+","lo":0.19,"hi":0.27,"v":66},{"k":"b","m":"V82C","r":"+","lo":0.27,"hi":0.35,"v":34},{"k":"b","m":"V82C","r":"+","lo":0.35,"hi":0.43,"v":32},{"k":"b","m":"V82C","r":"+","lo":0.43,"hi":0.51,"v":15},{"k":"b","m":"V82C","r":"+","lo":0.51,"hi":0.59,"v":7},{"k":"b","m":"V82C","r":"+","lo":0.59,"hi":0.67,"v":4},{"k":"b","m":"V82C","r":"+","lo":0.67,"hi":0.75,"v":11},{"k":"b","m":"V82C","r":"+","lo":0.75,"hi":0.83,"v":4},
{"k":"t","m":"V82C","r":"+","x":-0.2,"y":0},{"k":"t","m":"V82C","r":"+","x":-0.152,"y":2},{"k":"t","m":"V82C","r":"+","x":-0.079,"y":18},{"k":"t","m":"V82C","r":"+","x":-0.006,"y":49},{"k":"t","m":"V82C","r":"+","x":0.066,"y":85},{"k":"t","m":"V82C","r":"+","x":0.134,"y":99},{"k":"t","m":"V82C","r":"+","x":0.188,"y":90},{"k":"t","m":"V82C","r":"+","x":0.236,"y":62},{"k":"t","m":"V82C","r":"+","x":0.27,"y":40},{"k":"t","m":"V82C","r":"+","x":0.295,"y":31},{"k":"t","m":"V82C","r":"+","x":0.335,"y":36},{"k":"t","m":"V82C","r":"+","x":0.37,"y":32},{"k":"t","m":"V82C","r":"+","x":0.405,"y":25},{"k":"t","m":"V82C","r":"+","x":0.454,"y":14},{"k":"t","m":"V82C","r":"+","x":0.527,"y":4},{"k":"t","m":"V82C","r":"+","x":0.58,"y":3.5},{"k":"t","m":"V82C","r":"+","x":0.63,"y":6},{"k":"t","m":"V82C","r":"+","x":0.68,"y":10},{"k":"t","m":"V82C","r":"+","x":0.72,"y":10},{"k":"t","m":"V82C","r":"+","x":0.77,"y":6},{"k":"t","m":"V82C","r":"+","x":0.817,"y":2.5},{"k":"t","m":"V82C","r":"+","x":0.89,"y":0.5},{"k":"t","m":"V82C","r":"+","x":1.2,"y":0},
{"k":"c","m":"V82C","r":"+","c":1,"x":-0.2,"y":0},{"k":"c","m":"V82C","r":"+","c":1,"x":-0.16,"y":1.1},{"k":"c","m":"V82C","r":"+","c":1,"x":-0.065,"y":13.2},{"k":"c","m":"V82C","r":"+","c":1,"x":-0.0175,"y":31.9},{"k":"c","m":"V82C","r":"+","c":1,"x":0.03,"y":59.5},{"k":"c","m":"V82C","r":"+","c":1,"x":0.0775,"y":86.5},{"k":"c","m":"V82C","r":"+","c":1,"x":0.125,"y":98},{"k":"c","m":"V82C","r":"+","c":1,"x":0.1725,"y":86.5},{"k":"c","m":"V82C","r":"+","c":1,"x":0.22,"y":59.5},{"k":"c","m":"V82C","r":"+","c":1,"x":0.2675,"y":31.9},{"k":"c","m":"V82C","r":"+","c":1,"x":0.315,"y":13.2},{"k":"c","m":"V82C","r":"+","c":1,"x":0.41,"y":1.1},{"k":"c","m":"V82C","r":"+","c":1,"x":1.2,"y":0},
{"k":"c","m":"V82C","r":"+","c":2,"x":-0.2,"y":0},{"k":"c","m":"V82C","r":"+","c":2,"x":0.225,"y":0.3},{"k":"c","m":"V82C","r":"+","c":2,"x":0.265,"y":4.1},{"k":"c","m":"V82C","r":"+","c":2,"x":0.285,"y":9.8},{"k":"c","m":"V82C","r":"+","c":2,"x":0.305,"y":18.2},{"k":"c","m":"V82C","r":"+","c":2,"x":0.325,"y":26.5},{"k":"c","m":"V82C","r":"+","c":2,"x":0.345,"y":30},{"k":"c","m":"V82C","r":"+","c":2,"x":0.365,"y":26.5},{"k":"c","m":"V82C","r":"+","c":2,"x":0.385,"y":18.2},{"k":"c","m":"V82C","r":"+","c":2,"x":0.405,"y":9.8},{"k":"c","m":"V82C","r":"+","c":2,"x":0.425,"y":4.1},{"k":"c","m":"V82C","r":"+","c":2,"x":0.465,"y":0.3},{"k":"c","m":"V82C","r":"+","c":2,"x":1.2,"y":0},
{"k":"c","m":"V82C","r":"+","c":3,"x":-0.2,"y":0},{"k":"c","m":"V82C","r":"+","c":3,"x":0.485,"y":0.1},{"k":"c","m":"V82C","r":"+","c":3,"x":0.55,"y":1.4},{"k":"c","m":"V82C","r":"+","c":3,"x":0.5825,"y":3.3},{"k":"c","m":"V82C","r":"+","c":3,"x":0.615,"y":6.1},{"k":"c","m":"V82C","r":"+","c":3,"x":0.6475,"y":8.8},{"k":"c","m":"V82C","r":"+","c":3,"x":0.68,"y":10},{"k":"c","m":"V82C","r":"+","c":3,"x":0.7125,"y":8.8},{"k":"c","m":"V82C","r":"+","c":3,"x":0.745,"y":6.1},{"k":"c","m":"V82C","r":"+","c":3,"x":0.7775,"y":3.3},{"k":"c","m":"V82C","r":"+","c":3,"x":0.81,"y":1.4},{"k":"c","m":"V82C","r":"+","c":3,"x":0.875,"y":0.1},{"k":"c","m":"V82C","r":"+","c":3,"x":1.2,"y":0},
{"k":"b","m":"Y75C","r":"-","lo":-0.05,"hi":0.03,"v":9},{"k":"b","m":"Y75C","r":"-","lo":0.03,"hi":0.11,"v":67},{"k":"b","m":"Y75C","r":"-","lo":0.11,"hi":0.19,"v":81},{"k":"b","m":"Y75C","r":"-","lo":0.19,"hi":0.27,"v":62},{"k":"b","m":"Y75C","r":"-","lo":0.27,"hi":0.35,"v":62},{"k":"b","m":"Y75C","r":"-","lo":0.35,"hi":0.43,"v":55},{"k":"b","m":"Y75C","r":"-","lo":0.43,"hi":0.51,"v":48},{"k":"b","m":"Y75C","r":"-","lo":0.51,"hi":0.59,"v":43},{"k":"b","m":"Y75C","r":"-","lo":0.59,"hi":0.67,"v":47},{"k":"b","m":"Y75C","r":"-","lo":0.67,"hi":0.75,"v":26},{"k":"b","m":"Y75C","r":"-","lo":0.75,"hi":0.83,"v":19},
{"k":"t","m":"Y75C","r":"-","x":-0.2,"y":0},{"k":"t","m":"Y75C","r":"-","x":-0.074,"y":0.5},{"k":"t","m":"Y75C","r":"-","x":-0.026,"y":5},{"k":"t","m":"Y75C","r":"-","x":0.023,"y":15},{"k":"t","m":"Y75C","r":"-","x":0.059,"y":45},{"k":"t","m":"Y75C","r":"-","x":0.083,"y":80},{"k":"t","m":"Y75C","r":"-","x":0.108,"y":99},{"k":"t","m":"Y75C","r":"-","x":0.132,"y":86},{"k":"t","m":"Y75C","r":"-","x":0.156,"y":66},{"k":"t","m":"Y75C","r":"-","x":0.192,"y":58},{"k":"t","m":"Y75C","r":"-","x":0.241,"y":62},{"k":"t","m":"Y75C","r":"-","x":0.289,"y":64},{"k":"t","m":"Y75C","r":"-","x":0.338,"y":60},{"k":"t","m":"Y75C","r":"-","x":0.386,"y":53},{"k":"t","m":"Y75C","r":"-","x":0.435,"y":47},{"k":"t","m":"Y75C","r":"-","x":0.507,"y":46},{"k":"t","m":"Y75C","r":"-","x":0.58,"y":48},{"k":"t","m":"Y75C","r":"-","x":0.628,"y":46},{"k":"t","m":"Y75C","r":"-","x":0.677,"y":40},{"k":"t","m":"Y75C","r":"-","x":0.725,"y":30},{"k":"t","m":"Y75C","r":"-","x":0.774,"y":17},{"k":"t","m":"Y75C","r":"-","x":0.822,"y":8},{"k":"t","m":"Y75C","r":"-","x":0.871,"y":2},{"k":"t","m":"Y75C","r":"-","x":0.95,"y":0},{"k":"t","m":"Y75C","r":"-","x":1.2,"y":0},
{"k":"c","m":"Y75C","r":"-","c":1,"x":-0.2,"y":0},{"k":"c","m":"Y75C","r":"-","c":1,"x":0.021,"y":1},{"k":"c","m":"Y75C","r":"-","c":1,"x":0.049,"y":11.9},{"k":"c","m":"Y75C","r":"-","c":1,"x":0.063,"y":28.6},{"k":"c","m":"Y75C","r":"-","c":1,"x":0.077,"y":53.4},{"k":"c","m":"Y75C","r":"-","c":1,"x":0.091,"y":77.7},{"k":"c","m":"Y75C","r":"-","c":1,"x":0.105,"y":88},{"k":"c","m":"Y75C","r":"-","c":1,"x":0.119,"y":77.7},{"k":"c","m":"Y75C","r":"-","c":1,"x":0.133,"y":53.4},{"k":"c","m":"Y75C","r":"-","c":1,"x":0.147,"y":28.6},{"k":"c","m":"Y75C","r":"-","c":1,"x":0.161,"y":11.9},{"k":"c","m":"Y75C","r":"-","c":1,"x":0.189,"y":1},{"k":"c","m":"Y75C","r":"-","c":1,"x":1.2,"y":0},
{"k":"c","m":"Y75C","r":"-","c":2,"x":-0.2,"y":0},{"k":"c","m":"Y75C","r":"-","c":2,"x":-0.02,"y":0.7},{"k":"c","m":"Y75C","r":"-","c":2,"x":0.08,"y":8.4},{"k":"c","m":"Y75C","r":"-","c":2,"x":0.13,"y":20.2},{"k":"c","m":"Y75C","r":"-","c":2,"x":0.18,"y":37.6},{"k":"c","m":"Y75C","r":"-","c":2,"x":0.23,"y":54.7},{"k":"c","m":"Y75C","r":"-","c":2,"x":0.28,"y":62},{"k":"c","m":"Y75C","r":"-","c":2,"x":0.33,"y":54.7},{"k":"c","m":"Y75C","r":"-","c":2,"x":0.38,"y":37.6},{"k":"c","m":"Y75C","r":"-","c":2,"x":0.43,"y":20.2},{"k":"c","m":"Y75C","r":"-","c":2,"x":0.48,"y":8.4},{"k":"c","m":"Y75C","r":"-","c":2,"x":0.58,"y":0.7},{"k":"c","m":"Y75C","r":"-","c":2,"x":1.2,"y":0},
{"k":"c","m":"Y75C","r":"-","c":3,"x":-0.2,"y":0},{"k":"c","m":"Y75C","r":"-","c":3,"x":0.27,"y":0.5},{"k":"c","m":"Y75C","r":"-","c":3,"x":0.37,"y":5.9},{"k":"c","m":"Y75C","r":"-","c":3,"x":0.42,"y":14.3},{"k":"c","m":"Y75C","r":"-","c":3,"x":0.47,"y":26.7},{"k":"c","m":"Y75C","r":"-","c":3,"x":0.52,"y":38.9},{"k":"c","m":"Y75C","r":"-","c":3,"x":0.57,"y":44},{"k":"c","m":"Y75C","r":"-","c":3,"x":0.62,"y":38.9},{"k":"c","m":"Y75C","r":"-","c":3,"x":0.67,"y":26.7},{"k":"c","m":"Y75C","r":"-","c":3,"x":0.72,"y":14.3},{"k":"c","m":"Y75C","r":"-","c":3,"x":0.77,"y":5.9},{"k":"c","m":"Y75C","r":"-","c":3,"x":0.87,"y":0.5},{"k":"c","m":"Y75C","r":"-","c":3,"x":1.2,"y":0},
{"k":"b","m":"Y75C","r":"+","lo":-0.065,"hi":0.005,"v":18},{"k":"b","m":"Y75C","r":"+","lo":0.005,"hi":0.075,"v":74},{"k":"b","m":"Y75C","r":"+","lo":0.075,"hi":0.145,"v":74},{"k":"b","m":"Y75C","r":"+","lo":0.145,"hi":0.215,"v":82},{"k":"b","m":"Y75C","r":"+","lo":0.215,"hi":0.285,"v":69},{"k":"b","m":"Y75C","r":"+","lo":0.285,"hi":0.355,"v":54},{"k":"b","m":"Y75C","r":"+","lo":0.355,"hi":0.425,"v":25},{"k":"b","m":"Y75C","r":"+","lo":0.425,"hi":0.495,"v":17},{"k":"b","m":"Y75C","r":"+","lo":0.495,"hi":0.565,"v":22},{"k":"b","m":"Y75C","r":"+","lo":0.565,"hi":0.635,"v":17},{"k":"b","m":"Y75C","r":"+","lo":0.635,"hi":0.705,"v":15},
{"k":"t","m":"Y75C","r":"+","x":-0.2,"y":0},{"k":"t","m":"Y75C","r":"+","x":-0.171,"y":1},{"k":"t","m":"Y75C","r":"+","x":-0.074,"y":4},{"k":"t","m":"Y75C","r":"+","x":-0.026,"y":10},{"k":"t","m":"Y75C","r":"+","x":0.011,"y":40},{"k":"t","m":"Y75C","r":"+","x":0.035,"y":99},{"k":"t","m":"Y75C","r":"+","x":0.059,"y":69},{"k":"t","m":"Y75C","r":"+","x":0.083,"y":54},{"k":"t","m":"Y75C","r":"+","x":0.12,"y":64},{"k":"t","m":"Y75C","r":"+","x":0.18,"y":80},{"k":"t","m":"Y75C","r":"+","x":0.241,"y":72},{"k":"t","m":"Y75C","r":"+","x":0.313,"y":52},{"k":"t","m":"Y75C","r":"+","x":0.386,"y":34},{"k":"t","m":"Y75C","r":"+","x":0.459,"y":23},{"k":"t","m":"Y75C","r":"+","x":0.556,"y":18},{"k":"t","m":"Y75C","r":"+","x":0.653,"y":15},{"k":"t","m":"Y75C","r":"+","x":0.749,"y":8},{"k":"t","m":"Y75C","r":"+","x":0.846,"y":3},{"k":"t","m":"Y75C","r":"+","x":0.943,"y":1},{"k":"t","m":"Y75C","r":"+","x":1.2,"y":0},
{"k":"c","m":"Y75C","r":"+","c":1,"x":-0.2,"y":0},{"k":"c","m":"Y75C","r":"+","c":1,"x":-0.01,"y":1},{"k":"c","m":"Y75C","r":"+","c":1,"x":0.005,"y":12.8},{"k":"c","m":"Y75C","r":"+","c":1,"x":0.0125,"y":30.9},{"k":"c","m":"Y75C","r":"+","c":1,"x":0.02,"y":57.7},{"k":"c","m":"Y75C","r":"+","c":1,"x":0.0275,"y":83.9},{"k":"c","m":"Y75C","r":"+","c":1,"x":0.035,"y":95},{"k":"c","m":"Y75C","r":"+","c":1,"x":0.0425,"y":83.9},{"k":"c","m":"Y75C","r":"+","c":1,"x":0.05,"y":57.7},{"k":"c","m":"Y75C","r":"+","c":1,"x":0.0575,"y":30.9},{"k":"c","m":"Y75C","r":"+","c":1,"x":0.065,"y":12.8},{"k":"c","m":"Y75C","r":"+","c":1,"x":0.08,"y":1},{"k":"c","m":"Y75C","r":"+","c":1,"x":1.2,"y":0},
{"k":"c","m":"Y75C","r":"+","c":2,"x":-0.2,"y":0},{"k":"c","m":"Y75C","r":"+","c":2,"x":-0.075,"y":0.9},{"k":"c","m":"Y75C","r":"+","c":2,"x":0.01,"y":10.5},{"k":"c","m":"Y75C","r":"+","c":2,"x":0.0525,"y":25.4},{"k":"c","m":"Y75C","r":"+","c":2,"x":0.095,"y":47.3},{"k":"c","m":"Y75C","r":"+","c":2,"x":0.1375,"y":68.9},{"k":"c","m":"Y75C","r":"+","c":2,"x":0.18,"y":78},{"k":"c","m":"Y75C","r":"+","c":2,"x":0.2225,"y":68.9},{"k":"c","m":"Y75C","r":"+","c":2,"x":0.265,"y":47.3},{"k":"c","m":"Y75C","r":"+","c":2,"x":0.3075,"y":25.4},{"k":"c","m":"Y75C","r":"+","c":2,"x":0.35,"y":10.5},{"k":"c","m":"Y75C","r":"+","c":2,"x":0.435,"y":0.9},{"k":"c","m":"Y75C","r":"+","c":2,"x":1.2,"y":0},
{"k":"c","m":"Y75C","r":"+","c":3,"x":-0.2,"y":0},{"k":"c","m":"Y75C","r":"+","c":3,"x":0.05,"y":0.2},{"k":"c","m":"Y75C","r":"+","c":3,"x":0.19,"y":2.3},{"k":"c","m":"Y75C","r":"+","c":3,"x":0.26,"y":5.5},{"k":"c","m":"Y75C","r":"+","c":3,"x":0.33,"y":10.3},{"k":"c","m":"Y75C","r":"+","c":3,"x":0.4,"y":15},{"k":"c","m":"Y75C","r":"+","c":3,"x":0.47,"y":17},{"k":"c","m":"Y75C","r":"+","c":3,"x":0.54,"y":15},{"k":"c","m":"Y75C","r":"+","c":3,"x":0.61,"y":10.3},{"k":"c","m":"Y75C","r":"+","c":3,"x":0.68,"y":5.5},{"k":"c","m":"Y75C","r":"+","c":3,"x":0.75,"y":2.3},{"k":"c","m":"Y75C","r":"+","c":3,"x":0.89,"y":0.2},{"k":"c","m":"Y75C","r":"+","c":3,"x":1.2,"y":0},
{"k":"b","m":"Q80C","r":"-","lo":-0.0185,"hi":0.0785,"v":27},{"k":"b","m":"Q80C","r":"-","lo":0.0785,"hi":0.1755,"v":47},{"k":"b","m":"Q80C","r":"-","lo":0.1755,"hi":0.2725,"v":39},{"k":"b","m":"Q80C","r":"-","lo":0.2725,"hi":0.3695,"v":71},{"k":"b","m":"Q80C","r":"-","lo":0.3695,"hi":0.4665,"v":43},{"k":"b","m":"Q80C","r":"-","lo":0.4665,"hi":0.5635,"v":55},{"k":"b","m":"Q80C","r":"-","lo":0.5635,"hi":0.6605,"v":63},{"k":"b","m":"Q80C","r":"-","lo":0.6605,"hi":0.7575,"v":79},{"k":"b","m":"Q80C","r":"-","lo":0.7575,"hi":0.8545,"v":63},{"k":"b","m":"Q80C","r":"-","lo":0.8545,"hi":0.9515,"v":99},{"k":"b","m":"Q80C","r":"-","lo":0.9515,"hi":1.0485,"v":27},
{"k":"t","m":"Q80C","r":"-","x":-0.2,"y":0},{"k":"t","m":"Q80C","r":"-","x":-0.05,"y":0.3},{"k":"t","m":"Q80C","r":"-","x":0,"y":3.8},{"k":"t","m":"Q80C","r":"-","x":0.05,"y":21.6},{"k":"t","m":"Q80C","r":"-","x":0.08,"y":41},{"k":"t","m":"Q80C","r":"-","x":0.105,"y":56},{"k":"t","m":"Q80C","r":"-","x":0.13,"y":62},{"k":"t","m":"Q80C","r":"-","x":0.155,"y":56},{"k":"t","m":"Q80C","r":"-","x":0.18,"y":41.8},{"k":"t","m":"Q80C","r":"-","x":0.205,"y":27.3},{"k":"t","m":"Q80C","r":"-","x":0.23,"y":19.8},{"k":"t","m":"Q80C","r":"-","x":0.255,"y":23.9},{"k":"t","m":"Q80C","r":"-","x":0.28,"y":38.6},{"k":"t","m":"Q80C","r":"-","x":0.31,"y":60.2},{"k":"t","m":"Q80C","r":"-","x":0.335,"y":69.2},{"k":"t","m":"Q80C","r":"-","x":0.36,"y":63.8},{"k":"t","m":"Q80C","r":"-","x":0.39,"y":46},{"k":"t","m":"Q80C","r":"-","x":0.42,"y":30.9},{"k":"t","m":"Q80C","r":"-","x":0.45,"y":26.5},{"k":"t","m":"Q80C","r":"-","x":0.5,"y":36},{"k":"t","m":"Q80C","r":"-","x":0.55,"y":52.4},{"k":"t","m":"Q80C","r":"-","x":0.6,"y":69.4},{"k":"t","m":"Q80C","r":"-","x":0.65,"y":83.6},{"k":"t","m":"Q80C","r":"-","x":0.72,"y":92},{"k":"t","m":"Q80C","r":"-","x":0.79,"y":83.6},{"k":"t","m":"Q80C","r":"-","x":0.84,"y":69.4},{"k":"t","m":"Q80C","r":"-","x":0.89,"y":52.4},{"k":"t","m":"Q80C","r":"-","x":0.94,"y":35.8},{"k":"t","m":"Q80C","r":"-","x":1,"y":19.9},{"k":"t","m":"Q80C","r":"-","x":1.05,"y":11},{"k":"t","m":"Q80C","r":"-","x":1.1,"y":5.5},{"k":"t","m":"Q80C","r":"-","x":1.15,"y":2.5},{"k":"t","m":"Q80C","r":"-","x":1.2,"y":1},
{"k":"c","m":"Q80C","r":"-","c":1,"x":-0.2,"y":0},{"k":"c","m":"Q80C","r":"-","c":1,"x":-0.035,"y":0.7},{"k":"c","m":"Q80C","r":"-","c":1,"x":0.02,"y":8.4},{"k":"c","m":"Q80C","r":"-","c":1,"x":0.0475,"y":20.2},{"k":"c","m":"Q80C","r":"-","c":1,"x":0.075,"y":37.6},{"k":"c","m":"Q80C","r":"-","c":1,"x":0.1025,"y":54.7},{"k":"c","m":"Q80C","r":"-","c":1,"x":0.13,"y":62},{"k":"c","m":"Q80C","r":"-","c":1,"x":0.1575,"y":54.7},{"k":"c","m":"Q80C","r":"-","c":1,"x":0.185,"y":37.6},{"k":"c","m":"Q80C","r":"-","c":1,"x":0.2125,"y":20.2},{"k":"c","m":"Q80C","r":"-","c":1,"x":0.24,"y":8.4},{"k":"c","m":"Q80C","r":"-","c":1,"x":0.295,"y":0.7},{"k":"c","m":"Q80C","r":"-","c":1,"x":1.2,"y":0},
{"k":"c","m":"Q80C","r":"-","c":2,"x":-0.2,"y":0},{"k":"c","m":"Q80C","r":"-","c":2,"x":0.185,"y":0.7},{"k":"c","m":"Q80C","r":"-","c":2,"x":0.235,"y":8.6},{"k":"c","m":"Q80C","r":"-","c":2,"x":0.26,"y":20.8},{"k":"c","m":"Q80C","r":"-","c":2,"x":0.285,"y":38.8},{"k":"c","m":"Q80C","r":"-","c":2,"x":0.31,"y":56.5},{"k":"c","m":"Q80C","r":"-","c":2,"x":0.335,"y":64},{"k":"c","m":"Q80C","r":"-","c":2,"x":0.36,"y":56.5},{"k":"c","m":"Q80C","r":"-","c":2,"x":0.385,"y":38.8},{"k":"c","m":"Q80C","r":"-","c":2,"x":0.41,"y":20.8},{"k":"c","m":"Q80C","r":"-","c":2,"x":0.435,"y":8.6},{"k":"c","m":"Q80C","r":"-","c":2,"x":0.485,"y":0.7},{"k":"c","m":"Q80C","r":"-","c":2,"x":1.2,"y":0},
{"k":"c","m":"Q80C","r":"-","c":3,"x":-0.2,"y":0},{"k":"c","m":"Q80C","r":"-","c":3,"x":0.24,"y":1},{"k":"c","m":"Q80C","r":"-","c":3,"x":0.4,"y":12.4},{"k":"c","m":"Q80C","r":"-","c":3,"x":0.48,"y":29.9},{"k":"c","m":"Q80C","r":"-","c":3,"x":0.56,"y":55.8},{"k":"c","m":"Q80C","r":"-","c":3,"x":0.64,"y":81.2},{"k":"c","m":"Q80C","r":"-","c":3,"x":0.72,"y":92},{"k":"c","m":"Q80C","r":"-","c":3,"x":0.8,"y":81.2},{"k":"c","m":"Q80C","r":"-","c":3,"x":0.88,"y":55.8},{"k":"c","m":"Q80C","r":"-","c":3,"x":0.96,"y":29.9},{"k":"c","m":"Q80C","r":"-","c":3,"x":1.04,"y":12.4},{"k":"c","m":"Q80C","r":"-","c":3,"x":1.2,"y":1},
{"k":"b","m":"Q80C","r":"+","lo":-0.04,"hi":0.02,"v":15},{"k":"b","m":"Q80C","r":"+","lo":0.02,"hi":0.08,"v":83},{"k":"b","m":"Q80C","r":"+","lo":0.08,"hi":0.14,"v":90},{"k":"b","m":"Q80C","r":"+","lo":0.14,"hi":0.2,"v":30},{"k":"b","m":"Q80C","r":"+","lo":0.2,"hi":0.26,"v":13},{"k":"b","m":"Q80C","r":"+","lo":0.26,"hi":0.32,"v":38},{"k":"b","m":"Q80C","r":"+","lo":0.32,"hi":0.38,"v":9},{"k":"b","m":"Q80C","r":"+","lo":0.38,"hi":0.44,"v":9},{"k":"b","m":"Q80C","r":"+","lo":0.44,"hi":0.5,"v":10},{"k":"b","m":"Q80C","r":"+","lo":0.5,"hi":0.56,"v":12},{"k":"b","m":"Q80C","r":"+","lo":0.56,"hi":0.62,"v":18},{"k":"b","m":"Q80C","r":"+","lo":0.62,"hi":0.68,"v":4},{"k":"b","m":"Q80C","r":"+","lo":0.68,"hi":0.74,"v":3},
{"k":"t","m":"Q80C","r":"+","x":-0.2,"y":0},{"k":"t","m":"Q80C","r":"+","x":-0.1,"y":0},{"k":"t","m":"Q80C","r":"+","x":-0.05,"y":0.6},{"k":"t","m":"Q80C","r":"+","x":-0.02,"y":3.7},{"k":"t","m":"Q80C","r":"+","x":0.01,"y":16.4},{"k":"t","m":"Q80C","r":"+","x":0.04,"y":46.5},{"k":"t","m":"Q80C","r":"+","x":0.07,"y":84},{"k":"t","m":"Q80C","r":"+","x":0.095,"y":98},{"k":"t","m":"Q80C","r":"+","x":0.12,"y":84},{"k":"t","m":"Q80C","r":"+","x":0.15,"y":46.6},{"k":"t","m":"Q80C","r":"+","x":0.18,"y":16.7},{"k":"t","m":"Q80C","r":"+","x":0.21,"y":4.6},{"k":"t","m":"Q80C","r":"+","x":0.24,"y":7.1},{"k":"t","m":"Q80C","r":"+","x":0.27,"y":27},{"k":"t","m":"Q80C","r":"+","x":0.3,"y":44.4},{"k":"t","m":"Q80C","r":"+","x":0.33,"y":29.2},{"k":"t","m":"Q80C","r":"+","x":0.36,"y":11.1},{"k":"t","m":"Q80C","r":"+","x":0.39,"y":7.7},{"k":"t","m":"Q80C","r":"+","x":0.45,"y":11},{"k":"t","m":"Q80C","r":"+","x":0.52,"y":13},{"k":"t","m":"Q80C","r":"+","x":0.6,"y":10.4},{"k":"t","m":"Q80C","r":"+","x":0.68,"y":5.4},{"k":"t","m":"Q80C","r":"+","x":0.76,"y":1.8},{"k":"t","m":"Q80C","r":"+","x":0.84,"y":0.4},{"k":"t","m":"Q80C","r":"+","x":0.92,"y":0},{"k":"t","m":"Q80C","r":"+","x":1.2,"y":0},
{"k":"c","m":"Q80C","r":"+","c":1,"x":-0.2,"y":0},{"k":"c","m":"Q80C","r":"+","c":1,"x":-0.04,"y":1.1},{"k":"c","m":"Q80C","r":"+","c":1,"x":0.005,"y":13.2},{"k":"c","m":"Q80C","r":"+","c":1,"x":0.0275,"y":31.9},{"k":"c","m":"Q80C","r":"+","c":1,"x":0.05,"y":59.5},{"k":"c","m":"Q80C","r":"+","c":1,"x":0.0725,"y":86.5},{"k":"c","m":"Q80C","r":"+","c":1,"x":0.095,"y":98},{"k":"c","m":"Q80C","r":"+","c":1,"x":0.1175,"y":86.5},{"k":"c","m":"Q80C","r":"+","c":1,"x":0.14,"y":59.5},{"k":"c","m":"Q80C","r":"+","c":1,"x":0.1625,"y":31.9},{"k":"c","m":"Q80C","r":"+","c":1,"x":0.185,"y":13.2},{"k":"c","m":"Q80C","r":"+","c":1,"x":0.23,"y":1.1},{"k":"c","m":"Q80C","r":"+","c":1,"x":1.2,"y":0},
{"k":"c","m":"Q80C","r":"+","c":2,"x":-0.2,"y":0},{"k":"c","m":"Q80C","r":"+","c":2,"x":0.21,"y":0.5},{"k":"c","m":"Q80C","r":"+","c":2,"x":0.24,"y":5.7},{"k":"c","m":"Q80C","r":"+","c":2,"x":0.255,"y":13.7},{"k":"c","m":"Q80C","r":"+","c":2,"x":0.27,"y":25.5},{"k":"c","m":"Q80C","r":"+","c":2,"x":0.285,"y":37.1},{"k":"c","m":"Q80C","r":"+","c":2,"x":0.3,"y":42},{"k":"c","m":"Q80C","r":"+","c":2,"x":0.315,"y":37.1},{"k":"c","m":"Q80C","r":"+","c":2,"x":0.33,"y":25.5},{"k":"c","m":"Q80C","r":"+","c":2,"x":0.345,"y":13.7},{"k":"c","m":"Q80C","r":"+","c":2,"x":0.36,"y":5.7},{"k":"c","m":"Q80C","r":"+","c":2,"x":0.39,"y":0.5},{"k":"c","m":"Q80C","r":"+","c":2,"x":1.2,"y":0},
{"k":"c","m":"Q80C","r":"+","c":3,"x":-0.2,"y":0},{"k":"c","m":"Q80C","r":"+","c":3,"x":0.16,"y":0.1},{"k":"c","m":"Q80C","r":"+","c":3,"x":0.28,"y":1.8},{"k":"c","m":"Q80C","r":"+","c":3,"x":0.34,"y":4.2},{"k":"c","m":"Q80C","r":"+","c":3,"x":0.4,"y":7.9},{"k":"c","m":"Q80C","r":"+","c":3,"x":0.46,"y":11.5},{"k":"c","m":"Q80C","r":"+","c":3,"x":0.52,"y":13},{"k":"c","m":"Q80C","r":"+","c":3,"x":0.58,"y":11.5},{"k":"c","m":"Q80C","r":"+","c":3,"x":0.64,"y":7.9},{"k":"c","m":"Q80C","r":"+","c":3,"x":0.7,"y":4.2},{"k":"c","m":"Q80C","r":"+","c":3,"x":0.76,"y":1.8},{"k":"c","m":"Q80C","r":"+","c":3,"x":0.88,"y":0.1},{"k":"c","m":"Q80C","r":"+","c":3,"x":1.2,"y":0}
]},
"resolve":{"scale":{"color":"independent"},"legend":{"color":"independent"}},
"concat":[
{"hconcat":[
 {"hconcat":[
  {"data":{"values":[{}]},"mark":{"type":"point","opacity":0},"width":1,"height":1,"view":{"stroke":null}},
  {"concat":[
   {"width":424,"height":231,
    "title":{"text":"A","anchor":"start","frame":"group","baseline":"top","offset":-21,"dx":-80,"fontSize":25,"fontWeight":"bold"},
    "layer":[
     {"data":{"name":"Abar"},"mark":{"type":"rect","stroke":"white","strokeWidth":3.5,"clip":true},
      "encoding":{
       "x":{"field":"lo","type":"quantitative","scale":{"domain":[-0.2,1.165],"nice":false,"zero":false},"axis":{"values":[-0.2,0,0.2,0.4,0.6,0.8,1],"format":".1~f","labelFontSize":19,"tickSize":3,"labelPadding":3,"titleFontSize":19,"titlePadding":3},"title":"E"},
       "x2":{"field":"hi"},
       "y":{"field":"v","type":"quantitative","scale":{"domain":[0,60],"nice":false},"axis":{"values":[10,20,30,40,50],"labelFontSize":19,"tickSize":3,"titleFontSize":19,"titlePadding":8},"title":"Count"},
       "y2":{"datum":0},
       "color":{"datum":"M42C −LPC","type":"nominal","scale":{"range":["#650000"]},"legend":{"orient":"none","legendX":248,"legendY":9,"title":null,"labelFontSize":19,"labelColor":"#111","symbolType":"M-1,-0.76H3V0.76H-1Z","symbolSize":484,"symbolStrokeWidth":0,"strokeColor":"#333","fillColor":"white","padding":6,"labelOffset":28}}}},
     {"data":{"name":"Aline"},"transform":[{"filter":"datum.c == 't'"}],"mark":{"type":"line","color":"#ff1111","strokeWidth":3,"interpolate":"monotone","clip":true},
      "encoding":{"x":{"field":"x","type":"quantitative"},"y":{"field":"y","type":"quantitative"}}},
     {"data":{"name":"Aline"},"transform":[{"filter":"datum.c != 't'"}],"mark":{"type":"line","color":"#ffd800","strokeWidth":2.5,"strokeDash":[7,5],"interpolate":"monotone","clip":true},
      "encoding":{"x":{"field":"x","type":"quantitative"},"y":{"field":"y","type":"quantitative"},"detail":{"field":"c","type":"nominal"}}}
    ]},
   {"width":424,"height":229,
    "title":{"text":"B","anchor":"start","frame":"group","baseline":"top","offset":-27,"dx":-80,"fontSize":25,"fontWeight":"bold"},
    "layer":[
     {"data":{"name":"Bbar"},"mark":{"type":"rect","stroke":"white","strokeWidth":3.5,"clip":true},
      "encoding":{
       "x":{"field":"lo","type":"quantitative","scale":{"domain":[-0.2,1.165],"nice":false,"zero":false},"axis":{"values":[-0.2,0,0.2,0.4,0.6,0.8,1],"format":".1~f","labelFontSize":19,"tickSize":3,"labelPadding":3,"titleFontSize":19,"titlePadding":3},"title":"E"},
       "x2":{"field":"hi"},
       "y":{"field":"v","type":"quantitative","scale":{"domain":[0,141],"nice":false},"axis":{"values":[20,40,60,80,100,120,140],"labelFontSize":19,"tickSize":3,"titleFontSize":19,"titlePadding":8},"title":"Count"},
       "y2":{"datum":0},
       "color":{"datum":"M42C +LPC","type":"nominal","scale":{"range":["#9a9ae6"]},"legend":{"orient":"none","legendX":247,"legendY":8,"title":null,"labelFontSize":19,"labelColor":"#111","symbolType":"M-1,-0.76H3V0.76H-1Z","symbolSize":484,"symbolStrokeWidth":0,"strokeColor":"#333","fillColor":"white","padding":6,"labelOffset":28}}}},
     {"data":{"name":"Bline"},"transform":[{"filter":"datum.c == 't'"}],"mark":{"type":"line","color":"#1010dd","strokeWidth":3,"interpolate":"monotone","clip":true},
      "encoding":{"x":{"field":"x","type":"quantitative"},"y":{"field":"y","type":"quantitative"}}},
     {"data":{"name":"Bline"},"transform":[{"filter":"datum.c != 't'"}],"mark":{"type":"line","color":"#ff30e0","strokeWidth":2.5,"strokeDash":[7,5],"interpolate":"monotone","clip":true},
      "encoding":{"x":{"field":"x","type":"quantitative"},"y":{"field":"y","type":"quantitative"},"detail":{"field":"c","type":"nominal"}}}
    ]}
  ],"columns":1,"spacing":32,"resolve":{"scale":{"color":"independent"},"legend":{"color":"independent"}}}
 ],"spacing":-31,"resolve":{"scale":{"color":"independent"},"legend":{"color":"independent"}}},
 {"concat":[
  {"hconcat":[
   {"data":{"values":[{}]},"mark":{"type":"point","opacity":0},"width":1,"height":1,"view":{"stroke":null}},
   {"width":345,"height":261,
    "title":{"text":"C","anchor":"start","frame":"group","baseline":"top","offset":-23,"dx":-65,"fontSize":25,"fontWeight":"bold"},
    "layer":[
     {"data":{"name":"Cbar"},"mark":{"type":"rect","color":"#ff0000","stroke":"white","strokeWidth":2,"clip":true},
      "encoding":{
       "x":{"field":"lo","type":"quantitative","scale":{"domain":[-0.1,1.1],"nice":false,"zero":false},"axis":{"values":[0,0.5,1],"format":".1~f","labelFontSize":19,"tickSize":3,"labelPadding":3,"titleFontSize":19,"titlePadding":2},"title":"E"},
       "x2":{"field":"hi"},
       "y":{"field":"v","type":"quantitative","scale":{"domain":[-5.4,9.3],"nice":false,"zero":false},"axis":{"values":[-5,0,5],"labelFontSize":19,"tickSize":3,"titleFontSize":18,"titlePadding":10},"title":"ΔP = P⁺ − P⁻ (%)"},
       "y2":{"datum":0}}},
     {"data":{"values":[{}]},"mark":{"type":"rule","color":"#444","strokeWidth":1.2},"encoding":{"y":{"datum":0,"type":"quantitative"}}}
    ]}
  ],"spacing":-8},
  {"hconcat":[
   {"data":{"values":[{}]},"mark":{"type":"point","opacity":0},"width":1,"height":1,"view":{"stroke":null}},
   {"width":320,"height":232,
    "title":{"text":"D","anchor":"start","frame":"group","baseline":"top","offset":-10,"dx":-73,"fontSize":25,"fontWeight":"bold"},
    "data":{"name":"Dbar"},
    "layer":[
     {"mark":{"type":"bar","color":"#ff0000","size":45},
      "encoding":{
       "x":{"field":"f","type":"quantitative","scale":{"domain":[-1,18.9],"nice":false,"zero":false},"axis":{"values":[0,2.5,5,7.5,10,12.5,15,17.5],"format":"~g","labelExpr":"datum.value % 5 == 0 ? datum.label : ''","labelFontSize":15,"tickSize":4,"labelPadding":3,"titleFontSize":17,"titlePadding":6},"title":"BPE Fraction (%)"},
       "y":{"field":"v","type":"quantitative","scale":{"domain":[0,119],"nice":false},"axis":{"values":[0,10,20,30,40,50,60,70,80,90,100,110],"labelExpr":"datum.value == 0 ? '0.00' : datum.value == 20 ? '0.02' : datum.value == 40 ? '0.03' : datum.value == 60 ? '0.05' : datum.value == 80 ? '0.07' : datum.value == 100 ? '0.08' : ''","labelFontSize":15,"tickSize":4,"grid":true,"gridDash":[1,2],"gridColor":"#9a9ab8","titleFontSize":17,"titlePadding":8},"title":"ΔP²"}}},
     {"mark":{"type":"bar","opacity":0,"size":45},
      "encoding":{
       "x":{"field":"f","type":"quantitative"},
       "y":{"field":"v","type":"quantitative","scale":{"domain":[0,119],"nice":false},"axis":{"orient":"right","values":[0,10,20,30,40,50,60,70,80,90,100,110],"labelExpr":"datum.value % 20 == 0 && datum.value <= 100 ? datum.label : ''","labelFontSize":15,"tickSize":4,"titleFontSize":17,"titlePadding":22,"titleAngle":270,"titleBaseline":"bottom"},"title":"Rescaled  ΔP²"}}}
    ],
    "resolve":{"scale":{"y":"independent"}}}
  ],"spacing":-8}
 ],"columns":1,"spacing":3}
],"spacing":41,"resolve":{"scale":{"color":"independent"},"legend":{"color":"independent"}}},
{"data":{"name":"E"},
 "title":{"text":"E","anchor":"start","frame":"bounds","fontSize":25,"fontWeight":"bold","offset":4},
 "facet":{
  "column":{"field":"m","type":"nominal","sort":["A27C","I25C","V82C","Y75C","Q80C"],"header":{"title":"E","titleOrient":"bottom","labelOrient":"top","labelFontSize":15,"titleFontSize":15,"titleFontWeight":"normal","labelPadding":2,"titlePadding":0}},
  "row":{"field":"r","type":"nominal","sort":["-","+"],"header":{"title":"Count","labels":false,"titleFontSize":15,"titleFontWeight":"normal","titlePadding":4}}
 },
 "spacing":{"row":7,"column":6},
 "spec":{
  "width":193,"height":131,
  "layer":[
   {"transform":[{"filter":"datum.k == 'b'"}],"mark":{"type":"rect","stroke":"white","strokeWidth":1.5,"clip":true},
    "encoding":{
     "x":{"field":"lo","type":"quantitative","scale":{"domain":[-0.2,1.2],"nice":false,"zero":false},"axis":{"values":[0,0.5,1],"format":".1~f","title":null,"labelFontSize":15,"ticks":false,"labelPadding":3}},
     "x2":{"field":"hi"},
     "y":{"field":"v","type":"quantitative","scale":{"domain":[0,100],"nice":false},"axis":null},
     "y2":{"datum":0},
     "color":{"field":"r","type":"nominal","scale":{"domain":["-","+"],"range":["#650000","#9a9ae0"]},"legend":null}}},
   {"transform":[{"filter":"datum.k == 't'"}],"mark":{"type":"line","strokeWidth":2.2,"interpolate":"monotone","clip":true},
    "encoding":{"x":{"field":"x","type":"quantitative"},"y":{"field":"y","type":"quantitative"},
     "color":{"field":"r","type":"nominal","scale":{"domain":["-","+"],"range":["#ff1010","#1515dd"]},"legend":null}}},
   {"transform":[{"filter":"datum.k == 'c'"}],"mark":{"type":"line","strokeWidth":1.6,"strokeDash":[4,2],"interpolate":"monotone","clip":true},
    "encoding":{"x":{"field":"x","type":"quantitative"},"y":{"field":"y","type":"quantitative"},"detail":{"field":"c","type":"nominal"},
     "color":{"field":"r","type":"nominal","scale":{"domain":["-","+"],"range":["#ffb000","#ff30ff"]},"legend":null}}}
  ],
  "resolve":{"scale":{"color":"independent"}}
 }
}
],"columns":1,"spacing":32
}
